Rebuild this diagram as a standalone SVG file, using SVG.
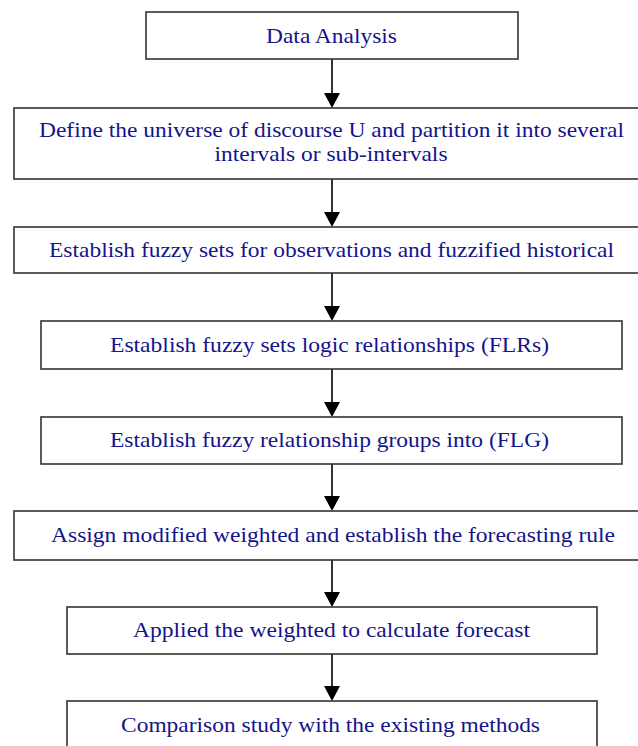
<svg xmlns="http://www.w3.org/2000/svg" width="638" height="746" viewBox="0 0 638 746">
<style>
.box{fill:#ffffff;stroke:#333333;stroke-width:1.6}
.lbl{font-family:"Liberation Serif","Times New Roman",serif;font-size:21px;fill:#14148c}
.conn{stroke:#333333;stroke-width:2;fill:none}
</style>
<defs>
<marker id="arr" viewBox="0 0 15 16" refX="0" refY="8" markerWidth="15" markerHeight="16" markerUnits="userSpaceOnUse" orient="auto">
<path d="M0,0 L15,8 L0,16 z" fill="#000000"/>
</marker>
</defs>
<rect width="638" height="746" fill="#ffffff"/>
<g id="connectors">
<line class="conn" x1="332" y1="59" x2="332" y2="93" marker-end="url(#arr)"/>
<line class="conn" x1="332" y1="179" x2="332" y2="212" marker-end="url(#arr)"/>
<line class="conn" x1="332" y1="273" x2="332" y2="306" marker-end="url(#arr)"/>
<line class="conn" x1="332" y1="369" x2="332" y2="402" marker-end="url(#arr)"/>
<line class="conn" x1="332" y1="464" x2="332" y2="496" marker-end="url(#arr)"/>
<line class="conn" x1="332" y1="560" x2="332" y2="592" marker-end="url(#arr)"/>
<line class="conn" x1="332" y1="654" x2="332" y2="686" marker-end="url(#arr)"/>
</g>
<g id="n1">
<rect class="box" x="146" y="12" width="372" height="47"/>
<text class="lbl" x="266" y="43" textLength="131" lengthAdjust="spacingAndGlyphs">Data Analysis</text>
</g>
<g id="n2">
<rect class="box" x="14" y="108" width="626" height="71"/>
<text class="lbl" x="39" y="137" textLength="585" lengthAdjust="spacingAndGlyphs">Define the universe of discourse U and partition it into several</text>
<text class="lbl" x="214.5" y="161" textLength="233" lengthAdjust="spacingAndGlyphs">intervals or sub-intervals</text>
</g>
<g id="n3">
<rect class="box" x="14" y="227" width="626" height="46"/>
<text class="lbl" x="49" y="257" textLength="565" lengthAdjust="spacingAndGlyphs">Establish fuzzy sets for observations and fuzzified historical</text>
</g>
<g id="n4">
<rect class="box" x="41" y="321" width="581" height="48"/>
<text class="lbl" x="110" y="352" textLength="439" lengthAdjust="spacingAndGlyphs">Establish fuzzy sets logic relationships (FLRs)</text>
</g>
<g id="n5">
<rect class="box" x="41" y="417" width="581" height="47"/>
<text class="lbl" x="110" y="447" textLength="439" lengthAdjust="spacingAndGlyphs">Establish fuzzy relationship groups into (FLG)</text>
</g>
<g id="n6">
<rect class="box" x="14" y="511" width="626" height="49"/>
<text class="lbl" x="51" y="542" textLength="564" lengthAdjust="spacingAndGlyphs">Assign modified weighted and establish the forecasting rule</text>
</g>
<g id="n7">
<rect class="box" x="67" y="607" width="530" height="47"/>
<text class="lbl" x="133" y="637" textLength="397" lengthAdjust="spacingAndGlyphs">Applied the weighted to calculate forecast</text>
</g>
<g id="n8">
<rect class="box" x="67" y="701" width="530" height="50"/>
<text class="lbl" x="121" y="732" textLength="419" lengthAdjust="spacingAndGlyphs">Comparison study with the existing methods</text>
</g>
</svg>
